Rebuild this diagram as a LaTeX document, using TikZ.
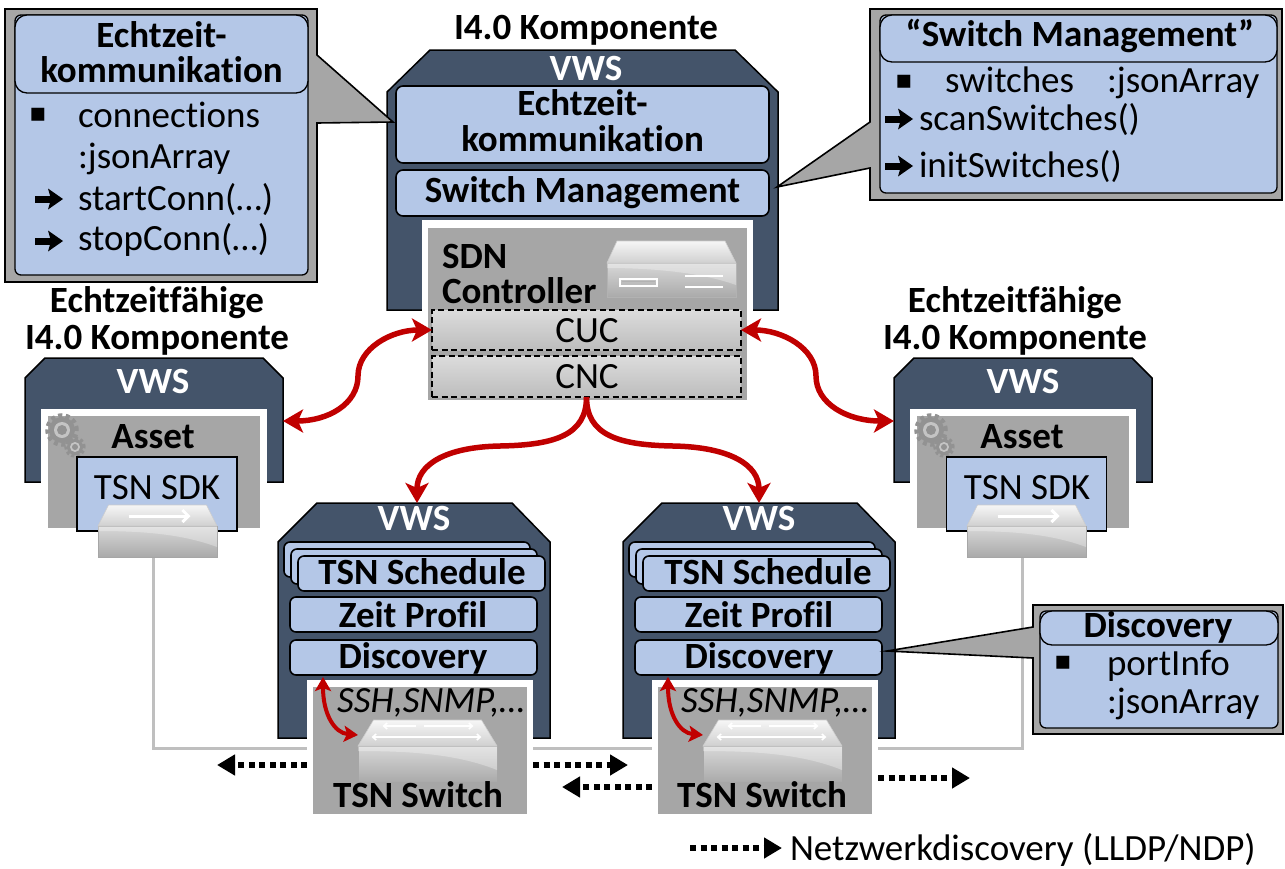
\documentclass[tikz,border=0pt]{standalone}
\usepackage{fontspec}
\setmainfont{Carlito}[Ligatures=NoCommon]
\newfontfamily\glyphfont{DejaVu Sans}
\usetikzlibrary{arrows.meta}

\definecolor{slate}{HTML}{44546A}
\definecolor{paleblue}{HTML}{B4C7E7}
\definecolor{hostgray}{HTML}{A6A6A6}
\definecolor{linkred}{HTML}{C00000}
\definecolor{wiregray}{HTML}{BFBFBF}
\definecolor{gearbody}{HTML}{929292}
\definecolor{gearrim}{HTML}{C4C4C4}
\definecolor{ctrltop}{HTML}{DCDCDC}
\definecolor{ctrlbot}{HTML}{BDBDBD}
\definecolor{lidtop}{HTML}{F6F6F6}
\definecolor{lidbot}{HTML}{D0D0D0}
\definecolor{fronttop}{HTML}{D8D8D8}
\definecolor{frontbot}{HTML}{AAAAAA}

\newcommand{\sqbullet}{{\glyphfont\fontsize{26}{26}\selectfont ▪}}

\tikzset{
  every node/.style={inner sep=0pt, outer sep=0pt},
  txt/.style={font=\fontsize{37}{37}\selectfont},
  btxt/.style={font=\fontsize{37}{37}\selectfont\bfseries},
  itxt/.style={font=\fontsize{37}{37}\selectfont\itshape},
  wtxt/.style={btxt, text=white},
  vwsbody/.style={fill=slate, draw=black, line width=1.5pt},
  cutout/.style={fill=white},
  hostbox/.style={fill=hostgray, rectangle},
  module/.style={fill=paleblue, draw=black, line width=1.6pt, rounded corners=7pt, rectangle},
  sdkbox/.style={fill=paleblue, draw=black, line width=1.6pt, rectangle},
  ctrlbox/.style={top color=ctrltop, bottom color=ctrlbot, draw=black, line width=1.8pt,
                  dash pattern=on 6pt off 3.5pt, rectangle},
  calloutshape/.style={fill=hostgray, draw=black, line width=1.6pt, line join=miter},
  calloutbody/.style={fill=paleblue, draw=black, line width=1.3pt, rounded corners=6pt},
  calloutheader/.style={fill=paleblue, draw=black, line width=1.3pt, rounded corners=12pt},
  redlink/.style={draw=linkred, line width=5.5pt, >={Stealth[length=20pt,width=23pt,inset=5pt]}},
  redshort/.style={draw=linkred, line width=4pt, >={Stealth[length=14pt,width=16pt,inset=3pt]}},
  wire/.style={draw=wiregray, line width=3pt},
  probe/.style={draw=black, line width=6pt, dash pattern=on 6pt off 4.5pt,
                -{Triangle[length=18pt,width=20pt]}},
  lidarrow/.style={draw=white, line width=1.6pt, -{Straight Barb[length=3.5pt,width=6pt]}},
  pics/itemarrow/.style={code={
    \draw[black, line width=7pt] (-14,0) -- (2,0);
    \fill[black] (-1,-10.5) -- (14,0) -- (-1,10.5) -- (2,0) -- cycle;
  }},
  pics/sdkswitch/.style={code={
    \shade[top color=lidtop, bottom color=lidbot, draw=black!20, line width=0.6pt]
      (-49,0) -- (49,0) -- (59.5,21) -- (-59.5,21) -- cycle;
    \shade[top color=fronttop, bottom color=frontbot, draw=black!35, line width=0.8pt]
      (-59.5,21) rectangle (59.5,52);
    \fill[white, opacity=0.3] (-59.5,21) -- (59.5,21) -- (59.5,42)
      .. controls (25,29) and (-15,26) .. (-59.5,26) -- cycle;
    \draw[white, line width=3pt, -{Straight Barb[length=6pt,width=12pt]}] (-29,11) -- (33,11);
  }},
  pics/tsnswitch/.style={code={
    \shade[top color=lidtop, bottom color=lidbot, draw=black!20, line width=0.6pt]
      (-54,0) -- (54,0) -- (69.5,26) -- (-69.5,26) -- cycle;
    \shade[top color=fronttop, bottom color=frontbot, draw=black!35, line width=0.8pt]
      (-69.5,26) rectangle (69.5,62);
    \fill[white, opacity=0.3] (-69.5,26) -- (69.5,26) -- (69.5,50)
      .. controls (30,34) and (-18,31) .. (-69.5,31) -- cycle;
    \draw[lidarrow] (-12,6) -- (-45,6);
    \draw[lidarrow] (-4,6) -- (46,6);
    \draw[lidarrow] (0,17) -- (-56,17);
    \draw[lidarrow] (-2,17) -- (54,17);
  }},
  pics/gearpair/.style={code={
    \fill[gearbody] (0,0) circle (13pt);
    \draw[gearbody, line width=4.5pt, dash pattern=on 4pt off 3.5pt] (0,0) circle (14.5pt);
    \fill[gearrim] (0,0) circle (8pt);
    \fill[gearbody] (0,0) circle (5pt);
    \fill[gearbody] (13,17) circle (8pt);
    \draw[gearbody, line width=3.5pt, dash pattern=on 3pt off 2.5pt] (13,17) circle (9pt);
    \fill[gearrim] (13,17) circle (5pt);
    \fill[gearbody] (13,17) circle (3pt);
  }},
}

\begin{document}
\begin{tikzpicture}[x=1pt,y=-1pt]
\useasboundingbox (0,0) rectangle (1285,868);

% ---------- wiring between the asset switches ----------
\coordinate (wireL) at (153,557);
\coordinate (wireR) at (1022,557);
\draw[wire] (wireL) -- (153,748) -- (1022,748) -- (wireR);

% ---------- central I4.0 component with SDN controller ----------
\node[btxt, anchor=base] (ttop) at (586,39) {I4.0 Komponente};
\draw[vwsbody] (430,50) -- (735,50) -- (778,92) -- (778,310) -- (387,310) -- (387,92) -- cycle;
\fill[cutout] (422,220) rectangle (753,402);
\node[hostbox, minimum width=319pt, minimum height=172pt] (sdn) at (587.5,314) {};
\node[module, minimum width=373pt, minimum height=77pt] (echt) at (582.5,124.5) {};
\node[module, minimum width=373pt, minimum height=46pt] (swm) at (582.5,193) {};
\node[ctrlbox, minimum width=309pt, minimum height=40pt] (cuc) at (586.5,330) {};
\node[ctrlbox, minimum width=309pt, minimum height=41pt] (cnc) at (586.5,376.5) {};
\node[wtxt, anchor=base] (vwstop) at (586,80) {VWS};
\node[btxt, anchor=base] (echt1) at (582.5,115) {Echtzeit-};
\node[btxt, anchor=base] (echt2) at (582.5,151) {kommunikation};
\node[btxt, anchor=base] (swmtxt) at (582.5,202) {Switch Management};
\node[btxt, anchor=base west] (sdn1) at (442,268) {SDN};
\node[btxt, anchor=base west] (sdn2) at (442,303) {Controller};
\node[txt, anchor=base] (cuctxt) at (587,342) {CUC};
\node[txt, anchor=base] (cnctxt) at (587,388) {CNC};
% server icon
\shade[top color=lidtop, bottom color=lidbot, draw=black!20, line width=0.6pt]
  (617,241) -- (725,241) -- (736,263) -- (607,263) -- cycle;
\shade[top color=fronttop, bottom color=frontbot, draw=black!30, line width=0.8pt]
  (607,263) rectangle (736,297);
\fill[white, opacity=0.3] (607,263) -- (736,263) -- (736,285) .. controls (700,272) and (650,268) .. (607,268) -- cycle;
\draw[white, line width=1.6pt] (620,279) rectangle (657,286);
\draw[black!30, line width=0.6pt] (622,281) -- (655,281);
\draw[white, line width=2.6pt] (685,276) -- (723,276);
\draw[white, line width=2.6pt] (685,287) -- (723,287);

% ---------- left real-time capable component ----------
\node[btxt, anchor=base] (tL1) at (157,312) {Echtzeitfähige};
\node[btxt, anchor=base] (tL2) at (157,349) {I4.0 Komponente};
\draw[vwsbody] (45,358) -- (263,358) -- (283,378) -- (283,482) -- (25,482) -- (25,378) -- cycle;
\fill[cutout] (41,409) rectangle (267,490);
\node[hostbox, minimum width=212pt, minimum height=112pt] (assetL) at (154,472) {};
\pic at (62,430) {gearpair};
\node[sdkbox, minimum width=160pt, minimum height=74pt] (sdkL) at (157,494) {};
\pic at (157.5,505) {sdkswitch};
\node[wtxt, anchor=base] (vwsL) at (153,393) {VWS};
\node[btxt, anchor=base] (assetLtxt) at (153,448) {Asset};
\node[txt, anchor=base] (sdkLtxt) at (157,499) {TSN SDK};
\coordinate (portL) at (283,421);

% ---------- right real-time capable component ----------
\node[btxt, anchor=base] (tR1) at (1015,312) {Echtzeitfähige};
\node[btxt, anchor=base] (tR2) at (1015,349) {I4.0 Komponente};
\draw[vwsbody] (914,358) -- (1132,358) -- (1152,378) -- (1152,482) -- (894,482) -- (894,378) -- cycle;
\fill[cutout] (910,409) rectangle (1136,490);
\node[hostbox, minimum width=212pt, minimum height=112pt] (assetR) at (1023,472) {};
\pic at (931,430) {gearpair};
\node[sdkbox, minimum width=160pt, minimum height=74pt] (sdkR) at (1026.5,494) {};
\pic at (1026.5,505) {sdkswitch};
\node[wtxt, anchor=base] (vwsR) at (1023,393) {VWS};
\node[btxt, anchor=base] (assetRtxt) at (1022,448) {Asset};
\node[txt, anchor=base] (sdkRtxt) at (1027,499) {TSN SDK};
\coordinate (portR) at (894,421);

% ---------- TSN switch A ----------
\draw[vwsbody] (317,503) -- (512,503) -- (550,542) -- (550,738) -- (278,738) -- (278,542) -- cycle;
\node[module, rounded corners=6pt, minimum width=246pt, minimum height=35pt] (schedA3) at (407,559.5) {};
\node[module, rounded corners=6pt, minimum width=246pt, minimum height=35pt] (schedA2) at (414,566.5) {};
\node[module, rounded corners=6pt, minimum width=247pt, minimum height=35pt] (schedA1) at (421.5,573.5) {};
\node[module, rounded corners=6pt, minimum width=247pt, minimum height=35pt] (zeitA) at (413.5,614.5) {};
\node[module, rounded corners=6pt, minimum width=247pt, minimum height=35pt] (discA) at (413.5,657.5) {};
\fill[cutout] (307,680) rectangle (533,820);
\node[hostbox, minimum width=214pt, minimum height=127pt] (tsnA) at (420,750.5) {};
\pic at (427.5,720) {tsnswitch};
\node[wtxt, anchor=base] (vwsA) at (414,530) {VWS};
\node[btxt, anchor=base] (schedAtxt) at (422,584) {TSN Schedule};
\node[btxt, anchor=base] (zeitAtxt) at (413,627) {Zeit Profil};
\node[btxt, anchor=base] (discAtxt) at (413,668) {Discovery};
\node[itxt, anchor=base] (protoA) at (431,712) {SSH,SNMP,…};
\node[btxt, anchor=base] (tsnAtxt) at (418,807) {TSN Switch};
\coordinate (topA) at (417,503);
\coordinate (mgmtA) at (323,677);
\coordinate (lidA) at (358,735);

% ---------- TSN switch B ----------
\draw[vwsbody] (662,503) -- (857,503) -- (895,542) -- (895,738) -- (623,738) -- (623,542) -- cycle;
\node[module, rounded corners=6pt, minimum width=246pt, minimum height=35pt] (schedB3) at (752,559.5) {};
\node[module, rounded corners=6pt, minimum width=246pt, minimum height=35pt] (schedB2) at (759,566.5) {};
\node[module, rounded corners=6pt, minimum width=247pt, minimum height=35pt] (schedB1) at (766.5,573.5) {};
\node[module, rounded corners=6pt, minimum width=247pt, minimum height=35pt] (zeitB) at (758.5,614.5) {};
\node[module, rounded corners=6pt, minimum width=247pt, minimum height=35pt] (discB) at (758.5,657.5) {};
\fill[cutout] (652,680) rectangle (878,820);
\node[hostbox, minimum width=214pt, minimum height=127pt] (tsnB) at (765,750.5) {};
\pic at (772.5,720) {tsnswitch};
\node[wtxt, anchor=base] (vwsB) at (759,530) {VWS};
\node[btxt, anchor=base] (schedBtxt) at (768,584) {TSN Schedule};
\node[btxt, anchor=base] (zeitBtxt) at (759,627) {Zeit Profil};
\node[btxt, anchor=base] (discBtxt) at (759,668) {Discovery};
\node[itxt, anchor=base] (protoB) at (775,712) {SSH,SNMP,…};
\node[btxt, anchor=base] (tsnBtxt) at (762,807) {TSN Switch};
\coordinate (topB) at (759,503);
\coordinate (mgmtB) at (668,677);
\coordinate (lidB) at (703,735);

% ---------- callout: Echtzeitkommunikation ----------
\draw[calloutshape] (5,9) -- (317,9) -- (317,55) -- (393,122) -- (317,123) -- (317,282) -- (5,282) -- cycle;
\draw[calloutbody] (15,15) rectangle (308,275);
\draw[calloutheader] (15,15) rectangle (308,93);
\node[btxt, anchor=base] (cL1) at (161.5,47) {Echtzeit-};
\node[btxt, anchor=base] (cL2) at (161.5,82) {kommunikation};
\node (bL1) at (38,115) {\sqbullet};
\node[txt, anchor=base west] (cL3) at (78,127) {connections};
\node[txt, anchor=base west] (cL4) at (78,168) {:jsonArray};
\pic at (49,199) {itemarrow};
\node[txt, anchor=base west] (cL5) at (78,210) {startConn(…)};
\pic at (49,241) {itemarrow};
\node[txt, anchor=base west] (cL6) at (78,250) {stopConn(…)};

% ---------- callout: Switch Management ----------
\draw[calloutshape] (870,9) -- (1282,9) -- (1282,200) -- (870,200) -- (870,168) -- (777,187) -- (870,122) -- cycle;
\draw[calloutbody] (880,15) rectangle (1277,193);
\draw[calloutheader] (880,15) rectangle (1277,62);
\node[btxt, anchor=base] (cR1) at (1080,46) {“Switch Management”};
\node (bR1) at (904,82) {\sqbullet};
\node[txt, anchor=base west] (cR2) at (945,92) {switches};
\node[txt, anchor=base west] (cR3) at (1107,92) {:jsonArray};
\pic at (899,119) {itemarrow};
\node[txt, anchor=base west] (cR4) at (919,130) {scanSwitches()};
\pic at (899,166) {itemarrow};
\node[txt, anchor=base west] (cR5) at (919,177) {initSwitches()};

% ---------- callout: Discovery ----------
\draw[calloutshape] (1033,605) -- (1283,605) -- (1283,734) -- (1033,734) -- (1033,658) -- (887,651) -- (1033,627) -- cycle;
\draw[calloutbody] (1040,611) rectangle (1278,728);
\draw[calloutheader] (1040,611) rectangle (1278,645);
\node[btxt, anchor=base] (cD1) at (1158,637) {Discovery};
\node (bD1) at (1063,663) {\sqbullet};
\node[txt, anchor=base west] (cD2) at (1107,675) {portInfo};
\node[txt, anchor=base west] (cD3) at (1107,713) {:jsonArray};

% ---------- control links ----------
\draw[redlink,<->] (cuc.west) .. controls (392,330) and (358,348) .. (358,376)
                              .. controls (358,404) and (328,421) .. (portL);
\draw[redlink,<->] (cuc.east) .. controls (782,330) and (816,348) .. (816,376)
                              .. controls (816,404) and (848,421) .. (portR);
\draw[redlink,->] (cnc.south) .. controls (586.5,435) and (555,445) .. (500,446)
                              .. controls (445,447) and (417,465) .. (topA);
\draw[redlink,->] (cnc.south) .. controls (586.5,435) and (618,445) .. (673,446)
                              .. controls (730,447) and (759,465) .. (topB);
\draw[redshort,<->] (mgmtA) .. controls (323,715) and (335,733) .. (lidA);
\draw[redshort,<->] (mgmtB) .. controls (668,715) and (680,733) .. (lidB);

% ---------- neighbour discovery ----------
\coordinate (dA1) at (307,765); \coordinate (dA1e) at (217,765);
\coordinate (dA2) at (533,765); \coordinate (dA2e) at (628,765);
\coordinate (dB1) at (652,787); \coordinate (dB1e) at (562,787);
\coordinate (dB2) at (878,778); \coordinate (dB2e) at (970,778);
\draw[probe] (dA1) -- (dA1e);
\draw[probe] (dA2) -- (dA2e);
\draw[probe] (dB1) -- (dB1e);
\draw[probe] (dB2) -- (dB2e);

% ---------- legend ----------
\coordinate (legA) at (690,848);
\coordinate (legB) at (782,848);
\draw[probe] (legA) -- (legB);
\node[txt, anchor=base west] (legtxt) at (790,860) {Netzwerkdiscovery (LLDP/NDP)};
\end{tikzpicture}
\end{document}
